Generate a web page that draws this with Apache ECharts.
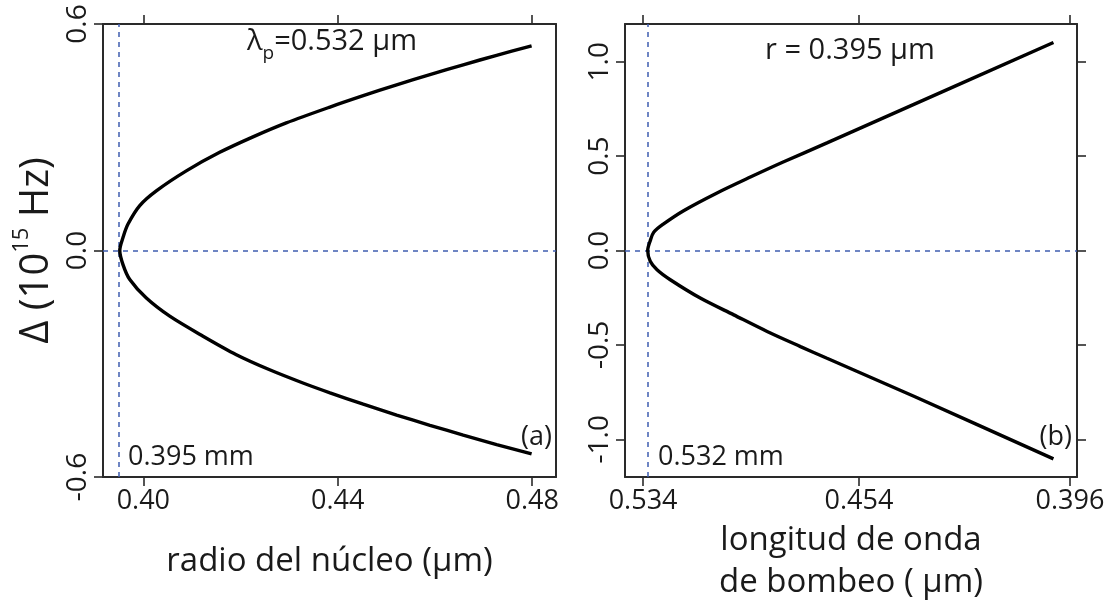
<!DOCTYPE html>
<html>
<head>
<meta charset="utf-8">
<script src="https://cdn.jsdelivr.net/npm/echarts@6/dist/echarts.min.js"></script>
<style>
html,body{margin:0;padding:0;background:#fff;}
#chart{width:1111px;height:604px;}
</style>
</head>
<body>
<div id="chart"></div>
<script>
// ---- Data ----
// Panel (a): detuning vs core radius (pump 0.532 um)
const radiusUpper = [0.39515, 0.39583, 0.39685, 0.39926, 0.40267, 0.40884, 0.41571, 0.42256, 0.42941, 0.43840, 0.44524, 0.45211, 0.45896, 0.46581, 0.47268, 0.47988];
const deltaUpperA = [0, 0.035, 0.070, 0.119, 0.158, 0.211, 0.260, 0.301, 0.338, 0.380, 0.410, 0.439, 0.466, 0.492, 0.517, 0.542];
const radiusLower = [0.39515, 0.39583, 0.39721, 0.40062, 0.40543, 0.41228, 0.41913, 0.42599, 0.43284, 0.43840, 0.44524, 0.45211, 0.45896, 0.46581, 0.47268, 0.47988];
const deltaLowerA = [0, -0.038, -0.077, -0.126, -0.174, -0.227, -0.276, -0.316, -0.351, -0.377, -0.407, -0.436, -0.463, -0.489, -0.514, -0.539];
// Panel (b): detuning vs pump wavelength (r = 0.395 um), axis linear in 1/lambda
const pumpUpper = [0.532, 0.5309, 0.5294, 0.5252, 0.5169, 0.5036, 0.4910, 0.4790, 0.4643, 0.4478, 0.4000];
const deltaUpperB = [0, 0.052, 0.097, 0.141, 0.211, 0.305, 0.389, 0.470, 0.570, 0.692, 1.102];
const pumpLower = [0.532, 0.5309, 0.5280, 0.5224, 0.5102, 0.4972, 0.4849, 0.4732, 0.4643, 0.4370, 0.4000];
const deltaLowerB = [0, -0.057, -0.102, -0.155, -0.252, -0.341, -0.429, -0.509, -0.571, -0.775, -1.104];
// Ticks
const radiusTicks = [0.40, 0.44, 0.48];
const deltaTicksA = [-0.6, 0, 0.6];
const pumpTicks = [0.534, 0.454, 0.396];
const deltaTicksB = [-1, -0.5, 0, 0.5, 1];
// Reference lines
const coreRadius = 0.395;
const pumpWavelength = 0.532;
// Axis ranges
const radiusRange = [0.3917, 0.4849];
const invPumpRange = [1.845, 2.536];
const deltaRangeA = [-0.6, 0.6];
const deltaRangeB = [-1.2, 1.2];

// ---- Build ----
const FONT = "'Open Sans', 'Noto Sans', sans-serif";
const TXT = '#1a1a1a';
const AXC = '#2a2a2a';
const lineA = radiusLower.map((r, i) => [r, deltaLowerA[i]]).reverse()
  .concat(radiusUpper.slice(1).map((r, i) => [r, deltaUpperA[i + 1]]));
const lineB = pumpLower.map((l, i) => [1 / l, deltaLowerB[i]]).reverse()
  .concat(pumpUpper.slice(1).map((l, i) => [1 / l, deltaUpperB[i + 1]]));
const invPumpTicks = pumpTicks.map(l => 1 / l);

const axLine = {show: true, onZero: false, lineStyle: {color: AXC, width: 2}};
const tickStyle = {color: AXC, width: 1.6};

function xAx(grid, pos, range, ticks, fmt, extra) {
  return Object.assign({
    gridIndex: grid, type: 'value', position: pos, min: range[0], max: range[1],
    axisLine: axLine,
    axisTick: {show: true, length: 9, customValues: ticks, lineStyle: tickStyle},
    axisLabel: pos === 'bottom'
      ? {show: true, customValues: ticks, formatter: fmt, fontSize: 27, fontFamily: FONT, color: TXT, margin: 11}
      : {show: false},
    splitLine: {show: false}
  }, extra || {});
}
function yAx(grid, pos, range, ticks, showTick, showLabel, extra) {
  return Object.assign({
    gridIndex: grid, type: 'value', position: pos, min: range[0], max: range[1],
    axisLine: axLine,
    axisTick: {show: showTick, length: 9, customValues: ticks, lineStyle: tickStyle},
    axisLabel: showLabel
      ? {show: true, customValues: ticks, rotate: 90, formatter: v => v.toFixed(1), fontSize: 28, fontFamily: FONT, color: TXT, margin: 11}
      : {show: false},
    splitLine: {show: false}
  }, extra || {});
}

const dashed = {type: [5, 5], color: '#3f5eb0', width: 1.5};

const option = {
  animation: false,
  backgroundColor: '#fff',
  grid: [
    {left: 103, top: 24, width: 453, height: 453, containLabel: false, outerBoundsMode: 'none'},
    {left: 625, top: 24, width: 452, height: 453, containLabel: false, outerBoundsMode: 'none'}
  ],
  xAxis: [
    xAx(0, 'bottom', radiusRange, radiusTicks, v => v.toFixed(2), {
      name: 'radio del núcleo (μm)', nameLocation: 'middle', nameGap: 66,
      nameTextStyle: {fontSize: 33, fontFamily: FONT, color: TXT, lineHeight: 38}
    }),
    xAx(0, 'top', radiusRange, radiusTicks),
    xAx(1, 'bottom', invPumpRange, invPumpTicks, v => (1 / v).toFixed(3), {
      name: 'longitud de onda\nde bombeo ( μm)', nameLocation: 'middle', nameGap: 40,
      nameTextStyle: {fontSize: 33, fontFamily: FONT, color: TXT, lineHeight: 42}
    }),
    xAx(1, 'top', invPumpRange, invPumpTicks)
  ],
  yAxis: [
    yAx(0, 'left', deltaRangeA, deltaTicksA, true, true, {
      name: '{a|Δ (10}{s|15}{a| Hz)}', nameLocation: 'middle', nameGap: 46, nameRotate: 90,
      nameTextStyle: {
        rich: {
          a: {fontSize: 40, fontFamily: FONT, color: TXT, lineHeight: 46, verticalAlign: 'bottom'},
          s: {fontSize: 22, fontFamily: FONT, color: TXT, lineHeight: 27, verticalAlign: 'top'}
        }
      }
    }),
    yAx(0, 'right', deltaRangeA, deltaTicksA, false, false),
    yAx(1, 'left', deltaRangeB, deltaTicksB, true, true),
    yAx(1, 'right', deltaRangeB, deltaTicksB, true, false)
  ],
  series: [
    {
      type: 'line', xAxisIndex: 0, yAxisIndex: 0, data: lineA, showSymbol: false, smooth: 0.3,
      lineStyle: {color: '#000', width: 3.4}, z: 3,
      markLine: {silent: true, symbol: 'none', precision: 6, label: {show: false}, lineStyle: dashed, z: 2,
        data: [{xAxis: coreRadius}, {yAxis: 0}]}
    },
    {
      type: 'line', xAxisIndex: 2, yAxisIndex: 2, data: lineB, showSymbol: false, smooth: 0.3,
      lineStyle: {color: '#000', width: 3.4}, z: 3,
      markLine: {silent: true, symbol: 'none', precision: 6, label: {show: false}, lineStyle: dashed, z: 2,
        data: [{xAxis: 1 / pumpWavelength}, {yAxis: 0}]}
    }
  ],
  graphic: [
    {type: 'text', x: 332, y: 45, style: {
      text: '{a|λ}{s|p}{a|=0.532 μm}', align: 'center', verticalAlign: 'middle',
      rich: {
        a: {fontSize: 29, fontFamily: FONT, fill: TXT, lineHeight: 36, verticalAlign: 'top'},
        s: {fontSize: 19, fontFamily: FONT, fill: TXT, lineHeight: 22, verticalAlign: 'bottom'}
      }}},
    {type: 'text', x: 128, y: 457, style: {text: '0.395 mm', fontSize: 27, fontFamily: FONT, fill: TXT, align: 'left', verticalAlign: 'middle'}},
    {type: 'text', x: 552, y: 437, style: {text: '(a)', fontSize: 27, fontFamily: FONT, fill: TXT, align: 'right', verticalAlign: 'middle'}},
    {type: 'text', x: 850, y: 51, style: {text: 'r = 0.395 μm', fontSize: 29, fontFamily: FONT, fill: TXT, align: 'center', verticalAlign: 'middle'}},
    {type: 'text', x: 658, y: 457, style: {text: '0.532 mm', fontSize: 27, fontFamily: FONT, fill: TXT, align: 'left', verticalAlign: 'middle'}},
    {type: 'text', x: 1072, y: 437, style: {text: '(b)', fontSize: 27, fontFamily: FONT, fill: TXT, align: 'right', verticalAlign: 'middle'}}
  ]
};

const chart = echarts.init(document.getElementById('chart'), null, {renderer: 'canvas'});
chart.setOption(option);
</script>
</body>
</html>
